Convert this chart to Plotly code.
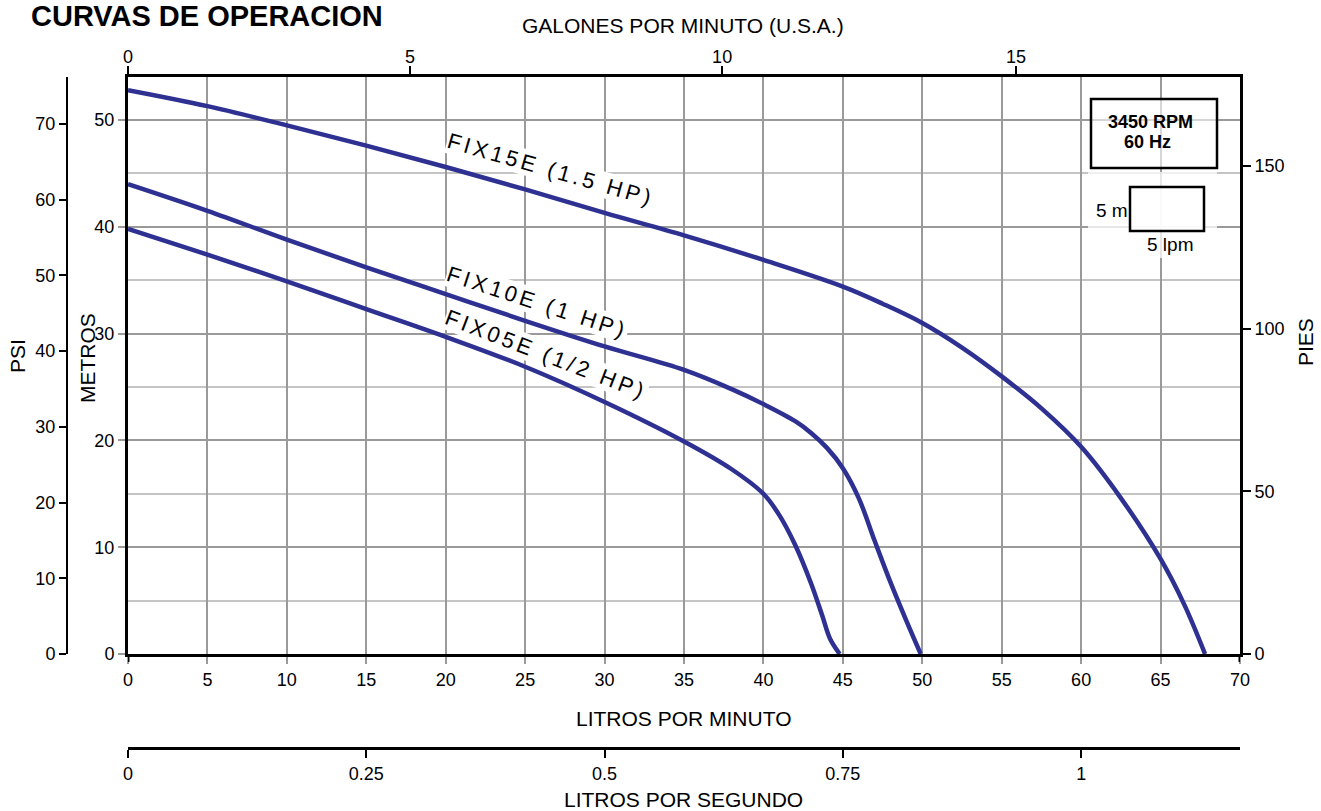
import plotly.graph_objects as go

W, H = 1321, 811

# ---------------- data (litros por minuto vs metros) ----------------
fix15_lpm = [0, 5, 10, 15, 20, 25, 30, 35, 40, 45, 47.5, 50, 52.5, 55, 57.5, 60, 62.5, 65, 66.5, 67.8]
fix15_m = [52.8, 51.3, 49.5, 47.6, 45.6, 43.5, 41.3, 39.2, 36.9, 34.4, 32.8, 31.0, 28.7, 26.0, 23.0, 19.4, 14.6, 8.9, 4.6, 0]

fix10_lpm = [0, 5, 10, 15, 20, 25, 30, 35, 38, 40, 42, 43, 44, 45, 46, 47, 48, 49, 49.9]
fix10_m = [44.0, 41.5, 38.8, 36.2, 33.7, 31.2, 28.8, 26.6, 24.8, 23.4, 21.8, 20.7, 19.3, 17.4, 14.6, 10.6, 6.7, 3.1, 0]

fix05_lpm = [0, 5, 10, 15, 20, 25, 30, 35, 38, 40, 41, 42, 43, 43.7, 44.2, 44.8]
fix05_m = [39.8, 37.4, 34.9, 32.3, 29.7, 26.9, 23.6, 19.9, 17.3, 15.0, 13.0, 10.2, 6.6, 3.6, 1.4, 0]

curve_names = ["FIX15E (1.5 HP)", "FIX10E (1 HP)", "FIX05E (1/2 HP)"]

# axis tick labels
lpm_ticks = list(range(0, 75, 5))
gpm_tick_text = ["0", "5", "10", "15"]
gpm_tick_pos_lpm = [0, 17.75, 37.4, 55.9]   # where the printed GPM ticks sit on the LPM scale
lps_ticks = [0, 0.25, 0.5, 0.75, 1]
lps_tick_text = ["0", "0.25", "0.5", "0.75", "1"]
metros_ticks = [0, 10, 20, 30, 40, 50]
psi_ticks = [0, 10, 20, 30, 40, 50, 60, 70]
pies_ticks = [0, 50, 100, 150]

X_MAX_LPM = 70
Y_MAX_M = 54.03
PSI_MAX = 76.2
PIES_MAX = 177.3

# ---------------- layout helpers (pixel -> paper) ----------------
def px(xp):
    return xp / W

def py(yp):
    return (H - yp) / H

LEFT, RIGHT, TOP, BOTTOM = 128, 1240, 77, 654
xdom = [px(LEFT), px(RIGHT)]
ydom = [py(BOTTOM), py(TOP)]

BLUE = "#2E3192"
GRID = "#9a9a9a"
GRID_MINOR = "#c4c4c4"
TICKFONT = dict(family="Liberation Sans Narrow, Arial Narrow, Liberation Sans, Arial", size=18, color="black")
TITLEFONT = dict(family="Liberation Sans, Arial", size=21, color="black")

fig = go.Figure()

for xs, ys in [(fix15_lpm, fix15_m), (fix10_lpm, fix10_m), (fix05_lpm, fix05_m)]:
    fig.add_trace(go.Scatter(x=xs, y=ys, mode="lines",
                             line=dict(color=BLUE, width=4.5, shape="spline", smoothing=1.0),
                             hoverinfo="skip", showlegend=False, cliponaxis=False))

# invisible anchors so every secondary axis is drawn
for xa, ya in [("x2", "y"), ("x3", "y"), ("x", "y2"), ("x", "y3")]:
    fig.add_trace(go.Scatter(x=[0], y=[0], xaxis=xa, yaxis=ya, mode="markers",
                             marker=dict(opacity=0), hoverinfo="skip", showlegend=False))

fig.update_layout(
    width=W, height=H,
    margin=dict(l=0, r=0, t=0, b=0, autoexpand=False),
    paper_bgcolor="white", plot_bgcolor="white",
    showlegend=False,
    xaxis=dict(domain=xdom, range=[0, X_MAX_LPM], tickvals=lpm_ticks, anchor="y",
               showgrid=True, gridcolor=GRID, gridwidth=2,
               showline=True, linecolor="black", linewidth=3,
               ticks="outside", ticklen=7, tickcolor=GRID, tickwidth=2,
               tickfont=TICKFONT, zeroline=False),
    xaxis2=dict(overlaying="x", side="top", anchor="y", range=[0, X_MAX_LPM],
                tickvals=gpm_tick_pos_lpm, ticktext=gpm_tick_text,
                showgrid=False, showline=True, linecolor="black", linewidth=3,
                ticks="outside", ticklen=8, tickcolor="black", tickwidth=1.5,
                ticklabelstandoff=-4,
                tickfont=TICKFONT, zeroline=False),
    xaxis3=dict(overlaying="x", anchor="free", position=py(748), side="bottom",
                range=[0, X_MAX_LPM / 60.0], tickvals=lps_ticks, ticktext=lps_tick_text,
                showgrid=False, showline=True, linecolor="black", linewidth=3,
                ticks="outside", ticklen=8, tickcolor="black", tickwidth=1.5,
                tickfont=TICKFONT, zeroline=False),
    yaxis=dict(domain=ydom, range=[0, Y_MAX_M], tickvals=metros_ticks, anchor="x",
               showgrid=True, gridcolor=GRID, gridwidth=2,
               minor=dict(dtick=5, showgrid=True, gridcolor=GRID_MINOR, gridwidth=1.5, ticks=""),
               showline=True, linecolor="black", linewidth=3,
               ticks="outside", ticklen=7, tickcolor=GRID, tickwidth=2,
               tickfont=TICKFONT, zeroline=False),
    yaxis2=dict(overlaying="y", side="right", anchor="x", range=[0, PIES_MAX],
                tickvals=pies_ticks, showgrid=False,
                showline=True, linecolor="black", linewidth=3,
                ticks="outside", ticklen=8, tickcolor="black", tickwidth=1.5,
                tickfont=TICKFONT, zeroline=False),
    yaxis3=dict(overlaying="y", anchor="free", position=px(67), side="left",
                range=[0, PSI_MAX], tickvals=psi_ticks, showgrid=False,
                showline=True, linecolor="black", linewidth=2,
                ticks="outside", ticklen=7, tickcolor="black", tickwidth=1.5,
                tickfont=TICKFONT, zeroline=False),
)

ann = []
# title and axis titles
ann.append(dict(text="<b>CURVAS DE OPERACION</b>", x=px(29), y=py(16), xanchor="left", yanchor="middle",
                font=dict(family="Liberation Sans, Arial", size=29, color="black")))
ann.append(dict(text="GALONES POR MINUTO (U.S.A.)", x=px(683), y=py(25), xanchor="center", yanchor="middle", font=TITLEFONT))
ann.append(dict(text="LITROS POR MINUTO", x=px(684), y=py(718), xanchor="center", yanchor="middle", font=TITLEFONT))
ann.append(dict(text="LITROS POR SEGUNDO", x=px(684), y=py(799), xanchor="center", yanchor="middle", font=TITLEFONT))
ann.append(dict(text="PSI", x=px(17), y=py(356), xanchor="center", yanchor="middle", textangle=-90, font=TITLEFONT))
ann.append(dict(text="METROS", x=px(87), y=py(358), xanchor="center", yanchor="middle", textangle=-90, font=TITLEFONT))
ann.append(dict(text="PIES", x=px(1305), y=py(342), xanchor="center", yanchor="middle", textangle=-90, font=TITLEFONT))

# curve labels (placed in data coordinates)
label_pos = [(26.6, 45.4, 16), (25.8, 32.9, 18), (26.3, 28.0, 21)]
for name, (lx, ly, ang) in zip(curve_names, label_pos):
    ann.append(dict(text='<span style="letter-spacing:3.5px">' + name + '</span>',
                    x=lx, y=ly, xref="x", yref="y", showarrow=False, textangle=ang,
                    xanchor="center", yanchor="middle", bgcolor="white", borderpad=0,
                    font=dict(family="Liberation Sans, Arial", size=22, color="black")))

# info box texts
ann.append(dict(text="<b>3450 RPM</b>", x=px(1150), y=py(122), xanchor="center", yanchor="middle",
                font=dict(family="Liberation Sans, Arial", size=18, color="black")))
ann.append(dict(text="<b>60 Hz</b>", x=px(1147), y=py(142), xanchor="center", yanchor="middle",
                font=dict(family="Liberation Sans, Arial", size=18, color="black")))
ann.append(dict(text="5 m", x=px(1112), y=py(210), xanchor="center", yanchor="middle",
                font=dict(family="Liberation Sans Narrow, Arial Narrow, Liberation Sans", size=19, color="black")))
ann.append(dict(text="5 lpm", x=px(1170), y=py(244), xanchor="center", yanchor="middle",
                font=dict(family="Liberation Sans Narrow, Arial Narrow, Liberation Sans", size=19, color="black")))

for a in ann:
    a.setdefault("xref", "paper")
    a.setdefault("yref", "paper")
    a.setdefault("showarrow", False)
fig.update_layout(annotations=ann)

shapes = [
    # soft white backing behind the scale key
    dict(type="rect", xref="paper", yref="paper", x0=px(1088), x1=px(1217), y0=py(258), y1=py(172),
         fillcolor="rgba(255,255,255,0.75)", line=dict(width=0), layer="above"),
    # RPM box
    dict(type="rect", xref="paper", yref="paper", x0=px(1091), x1=px(1217), y0=py(168), y1=py(99),
         fillcolor="rgba(255,255,255,0.6)", line=dict(color="black", width=2.5), layer="above"),
    # scale key box
    dict(type="rect", xref="paper", yref="paper", x0=px(1130), x1=px(1204), y0=py(231), y1=py(187),
         fillcolor="rgba(255,255,255,0.8)", line=dict(color="black", width=2.5), layer="above"),
    # dark end ticks of the litros-por-minuto scale
    dict(type="line", xref="x", yref="paper", x0=0, x1=0, y0=py(654), y1=py(662),
         line=dict(color="black", width=3), layer="above"),
    dict(type="line", xref="x", yref="paper", x0=X_MAX_LPM, x1=X_MAX_LPM, y0=py(654), y1=py(662),
         line=dict(color="black", width=3), layer="above"),
]
fig.update_layout(shapes=shapes)

fig.write_html("out.html",
               config={"displayModeBar": False},
               post_script="document.body.style.margin='0px';document.body.style.padding='0px';"
                           "document.body.style.overflow='hidden';")
